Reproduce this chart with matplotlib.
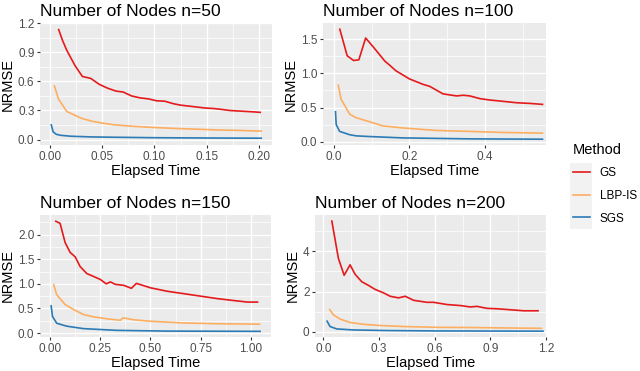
import numpy as np
import matplotlib
matplotlib.use("Agg")
import matplotlib.pyplot as plt
from matplotlib.lines import Line2D
from matplotlib.ticker import MultipleLocator

plt.rcParams['font.family'] = ['Liberation Sans', 'DejaVu Sans']

methods = ['GS', 'LBP-IS', 'SGS']
colors = {'GS': '#E41A1C', 'LBP-IS': '#FDAE61', 'SGS': '#2C7BB6'}

# n = 50
gs50_x = [0.008, 0.012, 0.016, 0.024, 0.031, 0.039, 0.047, 0.055, 0.063, 0.070, 0.078,
          0.086, 0.094, 0.102, 0.110, 0.118, 0.125, 0.133, 0.141, 0.149, 0.157, 0.165,
          0.172, 0.180, 0.188, 0.196, 0.202]
gs50_y = [1.14, 1.02, 0.92, 0.76, 0.65, 0.63, 0.57, 0.53, 0.50, 0.49, 0.45,
          0.43, 0.42, 0.40, 0.395, 0.37, 0.355, 0.345, 0.335, 0.325, 0.32, 0.31,
          0.30, 0.295, 0.29, 0.285, 0.28]
lbp50_x = [0.004, 0.008, 0.016, 0.024, 0.030, 0.040, 0.050, 0.060, 0.070, 0.080, 0.100,
           0.120, 0.140, 0.160, 0.180, 0.203]
lbp50_y = [0.56, 0.42, 0.29, 0.25, 0.22, 0.19, 0.17, 0.155, 0.145, 0.137, 0.125,
           0.115, 0.108, 0.100, 0.095, 0.088]
sgs50_x = [0.001, 0.003, 0.006, 0.010, 0.020, 0.040, 0.060, 0.100, 0.150, 0.203]
sgs50_y = [0.16, 0.08, 0.055, 0.045, 0.035, 0.028, 0.025, 0.020, 0.017, 0.015]

# n = 100
gs100_x = [0.015, 0.035, 0.052, 0.066, 0.084, 0.104, 0.135, 0.148, 0.164, 0.200, 0.236,
           0.254, 0.289, 0.325, 0.343, 0.360, 0.387, 0.413, 0.449, 0.484, 0.520, 0.555]
gs100_y = [1.66, 1.26, 1.19, 1.20, 1.52, 1.39, 1.18, 1.12, 1.04, 0.92, 0.84,
           0.81, 0.70, 0.67, 0.68, 0.67, 0.63, 0.61, 0.59, 0.57, 0.56, 0.545]
lbp100_x = [0.011, 0.019, 0.042, 0.059, 0.095, 0.130, 0.183, 0.272, 0.360, 0.449, 0.555]
lbp100_y = [0.84, 0.62, 0.40, 0.35, 0.29, 0.23, 0.20, 0.163, 0.149, 0.134, 0.124]
sgs100_x = [0.004, 0.006, 0.015, 0.042, 0.059, 0.095, 0.183, 0.360, 0.555]
sgs100_y = [0.45, 0.25, 0.15, 0.10, 0.084, 0.074, 0.054, 0.040, 0.035]

# n = 150
gs150_x = [0.025, 0.050, 0.075, 0.100, 0.125, 0.150, 0.183, 0.217, 0.250, 0.280, 0.300,
           0.325, 0.367, 0.405, 0.430, 0.500, 0.583, 0.667, 0.750, 0.833, 0.917, 0.983, 1.037]
gs150_y = [2.28, 2.23, 1.84, 1.64, 1.55, 1.35, 1.21, 1.15, 1.09, 1.00, 1.04,
           0.99, 0.97, 0.91, 1.01, 0.92, 0.85, 0.80, 0.75, 0.70, 0.66, 0.63, 0.63]
lbp150_x = [0.017, 0.033, 0.075, 0.117, 0.167, 0.217, 0.283, 0.350, 0.363, 0.417, 0.500,
            0.667, 0.833, 1.047]
lbp150_y = [1.00, 0.78, 0.58, 0.48, 0.375, 0.33, 0.29, 0.26, 0.31, 0.27, 0.24,
            0.205, 0.19, 0.18]
sgs150_x = [0.005, 0.012, 0.033, 0.083, 0.167, 0.333, 0.583, 1.050]
sgs150_y = [0.57, 0.34, 0.20, 0.14, 0.09, 0.055, 0.04, 0.035]

# n = 200
gs200_x = [0.045, 0.081, 0.112, 0.144, 0.171, 0.207, 0.243, 0.279, 0.324, 0.360, 0.405,
           0.441, 0.486, 0.558, 0.594, 0.666, 0.738, 0.792, 0.828, 0.882, 0.936, 1.008,
           1.080, 1.161]
gs200_y = [5.54, 3.65, 2.81, 3.33, 2.86, 2.49, 2.31, 2.11, 1.94, 1.77, 1.69,
           1.77, 1.57, 1.47, 1.47, 1.36, 1.31, 1.24, 1.27, 1.17, 1.15, 1.10,
           1.05, 1.05]
lbp200_x = [0.032, 0.054, 0.090, 0.144, 0.216, 0.306, 0.432, 0.612, 0.792, 0.972, 1.179]
lbp200_y = [1.14, 0.85, 0.64, 0.47, 0.38, 0.32, 0.27, 0.23, 0.22, 0.20, 0.18]
sgs200_x = [0.018, 0.036, 0.072, 0.162, 0.342, 0.612, 1.188]
sgs200_y = [0.57, 0.27, 0.15, 0.10, 0.07, 0.05, 0.04]

titles = ['Number of Nodes n=50', 'Number of Nodes n=100',
          'Number of Nodes n=150', 'Number of Nodes n=200']

W, H = 640, 371
fig = plt.figure(figsize=(W / 100, H / 100), dpi=100)


def add_panel(left, right, top, bottom):
    return fig.add_axes([left / W, 1 - bottom / H, (right - left) / W, (bottom - top) / H])


panels = [
    dict(box=(40, 272, 23, 145), xlim=(-0.0096, 0.2125), ylim=(-0.055, 1.2),
         xstep=0.05, ystep=0.3, xfmt='{:.2f}', yfmt='{:.1f}',
         data=[(gs50_x, gs50_y), (lbp50_x, lbp50_y), (sgs50_x, sgs50_y)]),
    dict(box=(323, 546, 23, 145), xlim=(-0.029, 0.562), ylim=(-0.05, 1.74),
         xstep=0.2, ystep=0.5, xfmt='{:.1f}', yfmt='{:.1f}',
         data=[(gs100_x, gs100_y), (lbp100_x, lbp100_y), (sgs100_x, sgs100_y)]),
    dict(box=(40, 271, 215, 337), xlim=(-0.05, 1.10), ylim=(-0.08, 2.4),
         xstep=0.25, ystep=0.5, xfmt='{:.2f}', yfmt='{:.1f}',
         data=[(gs150_x, gs150_y), (lbp150_x, lbp150_y), (sgs150_x, sgs150_y)]),
    dict(box=(315, 547, 215, 337), xlim=(-0.045, 1.205), ylim=(-0.25, 5.8),
         xstep=0.3, ystep=2, xfmt='{:.1f}', yfmt='{:.0f}',
         data=[(gs200_x, gs200_y), (lbp200_x, lbp200_y), (sgs200_x, sgs200_y)]),
]

for p, title in zip(panels, titles):
    ax = add_panel(*p['box'])
    ax.set_facecolor('#EBEBEB')
    for s in ax.spines.values():
        s.set_visible(False)
    for m, (xs, ys) in zip(methods, p['data']):
        ax.plot(xs, ys, color=colors[m], lw=1.2, solid_capstyle='butt')
    ax.set_xlim(*p['xlim'])
    ax.set_ylim(*p['ylim'])
    ax.xaxis.set_major_locator(MultipleLocator(p['xstep']))
    ax.yaxis.set_major_locator(MultipleLocator(p['ystep']))
    ax.xaxis.set_minor_locator(MultipleLocator(p['xstep'] / 2))
    ax.yaxis.set_minor_locator(MultipleLocator(p['ystep'] / 2))
    ax.xaxis.set_major_formatter(matplotlib.ticker.FuncFormatter(lambda v, _, f=p['xfmt']: f.format(v)))
    ax.yaxis.set_major_formatter(matplotlib.ticker.FuncFormatter(lambda v, _, f=p['yfmt']: f.format(v)))
    ax.grid(which='major', color='white', lw=1.0)
    ax.grid(which='minor', color='white', lw=0.5)
    ax.set_axisbelow(True)
    ax.tick_params(which='major', length=2.5, width=0.8, color='#333333',
                   labelsize=8.5, labelcolor='#4D4D4D', pad=1.5)
    ax.tick_params(which='minor', length=0)
    ax.set_xlabel('Elapsed Time', fontsize=10.5, labelpad=1)
    ax.set_ylabel('NRMSE', fontsize=10.5, labelpad=2)
    ax.set_title(title, fontsize=12.5, loc='left', pad=5)

# legend, keys on a light grey background like ggplot
handles = [Line2D([], [], color=colors[m], lw=1.2) for m in methods]
leg = fig.legend(handles, methods, title='Method', loc='upper left',
                 bbox_to_anchor=(562 / W, 1 - 132 / H), frameon=False,
                 fontsize=8.5, title_fontsize=10.5, handlelength=1.5,
                 handletextpad=0.8, labelspacing=0.9)
leg._legend_box.align = 'left'
fig.patches.append(plt.Rectangle((570 / W, 1 - 229 / H), 22 / W, 66 / H,
                                 transform=fig.transFigure, facecolor='#F2F2F2',
                                 edgecolor='none', zorder=0))

fig.savefig('out.png', dpi=100)
